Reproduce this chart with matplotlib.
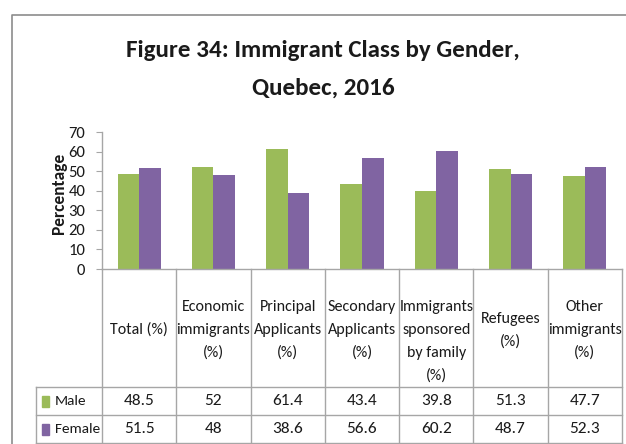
import numpy as np
import matplotlib
matplotlib.use("Agg")
import matplotlib.pyplot as plt
import matplotlib.transforms as mtransforms
from matplotlib.lines import Line2D
from matplotlib.patches import Rectangle

plt.rcParams['font.family'] = ['Carlito', 'Lato', 'DejaVu Sans']

# ---- data ----
kategorier = ["Total (%)",
              "Economic\nimmigrants\n(%)",
              "Principal\nApplicants\n(%)",
              "Secondary\nApplicants\n(%)",
              "Immigrants\nsponsored\nby family\n(%)",
              "Refugees\n(%)",
              "Other\nimmigrants\n(%)"]
menn = [48.5, 52, 61.4, 43.4, 39.8, 51.3, 47.7]
kvinner = [51.5, 48, 38.6, 56.6, 60.2, 48.7, 52.3]
serier = ["Male", "Female"]
yticks = [0, 10, 20, 30, 40, 50, 60, 70]

GRONN = "#9BBB59"
LILLA = "#8064A2"
GRAA = "#A6A6A6"
TEKST = "#1a1a1a"

# pikselstørrelse på figuren
W, H = 626, 444
fig = plt.figure(figsize=(W / 100, H / 100), dpi=100)


def fx(px):
    return px / W


def fy(py):
    return 1 - py / H


# ---- søylediagram ----
ax = fig.add_axes([fx(102), fy(269), fx(622) - fx(102), fy(132) - fy(269)])
x = np.arange(len(menn))
bw = 0.29
ax.bar(x - bw / 2, menn, bw, color=GRONN, label=serier[0])
ax.bar(x + bw / 2, kvinner, bw, color=LILLA, label=serier[1])
ax.set_xlim(-0.5, len(menn) - 0.5)
ax.set_ylim(0, 70)
ax.set_xticks([])
ax.set_yticks(yticks)
ax.tick_params(axis='y', length=4, color=GRAA, labelsize=12, pad=8, labelcolor=TEKST)
for s in ["top", "right"]:
    ax.spines[s].set_visible(False)
for s in ["left", "bottom"]:
    ax.spines[s].set_color(GRAA)
    ax.spines[s].set_linewidth(1.0)
ax.set_ylabel("Percentage", fontsize=12.5, fontweight='bold', color=TEKST)
ax.yaxis.set_label_coords((67 - 102) / 520, (269 - 193) / 137)

# ---- datatabell under diagrammet ----
blend = mtransforms.blended_transform_factory(ax.transData, fig.transFigure)
y_topp, y_hode, y_rad1, y_bunn = 269, 387, 415, 443

for i in range(len(menn) + 1):
    fig.add_artist(Line2D([i - 0.5, i - 0.5], [fy(y_topp), fy(y_bunn)],
                          transform=blend, color=GRAA, lw=1.0))
for yy in (y_hode, y_rad1, y_bunn):
    fig.add_artist(Line2D([fx(36), fx(622)], [fy(yy), fy(yy)],
                          transform=fig.transFigure, color=GRAA, lw=1.0))
fig.add_artist(Line2D([fx(36), fx(36)], [fy(y_hode), fy(y_bunn)],
                      transform=fig.transFigure, color=GRAA, lw=1.0))

# kolonnetitler, en linje om gangen; fire linjer starter på samme høyde som tre
steg = 23
for i, navn in enumerate(kategorier):
    linjer = navn.split("\n")
    n = len(linjer)
    midt = 330 + max(0, n - 3) * steg / 2
    for k, linje in enumerate(linjer):
        yl = midt + (k - (n - 1) / 2) * steg
        fig.text(i, fy(yl), linje, transform=blend, ha='center', va='center',
                 fontsize=11.5, color=TEKST)

for rad, (verdier, yc) in enumerate([(menn, 401), (kvinner, 429)]):
    for i, v in enumerate(verdier):
        fig.text(i, fy(yc), f"{v:g}", transform=blend, ha='center', va='center',
                 fontsize=12.5, color=TEKST)
    farge = GRONN if rad == 0 else LILLA
    fig.add_artist(Rectangle((fx(42), fy(yc + 6)), fx(7), 11 / H,
                             transform=fig.transFigure, color=farge))
    fig.text(fx(55), fy(yc), serier[rad], ha='left', va='center',
             fontsize=11, color=TEKST)

# ---- ramme og tittel ----
fig.add_artist(Line2D([fx(12), fx(12), fx(626)], [fy(444), fy(15), fy(15)],
                      transform=fig.transFigure, color="#8c8c8c", lw=1.2))
fig.text(fx(323), fy(57), "Figure 34: Immigrant Class by Gender,", ha='center',
         va='baseline', fontsize=18, fontweight='bold', color=TEKST)
fig.text(fx(323), fy(95), "Quebec, 2016", ha='center', va='baseline',
         fontsize=18, fontweight='bold', color=TEKST)

fig.savefig("out.png", dpi=100)
